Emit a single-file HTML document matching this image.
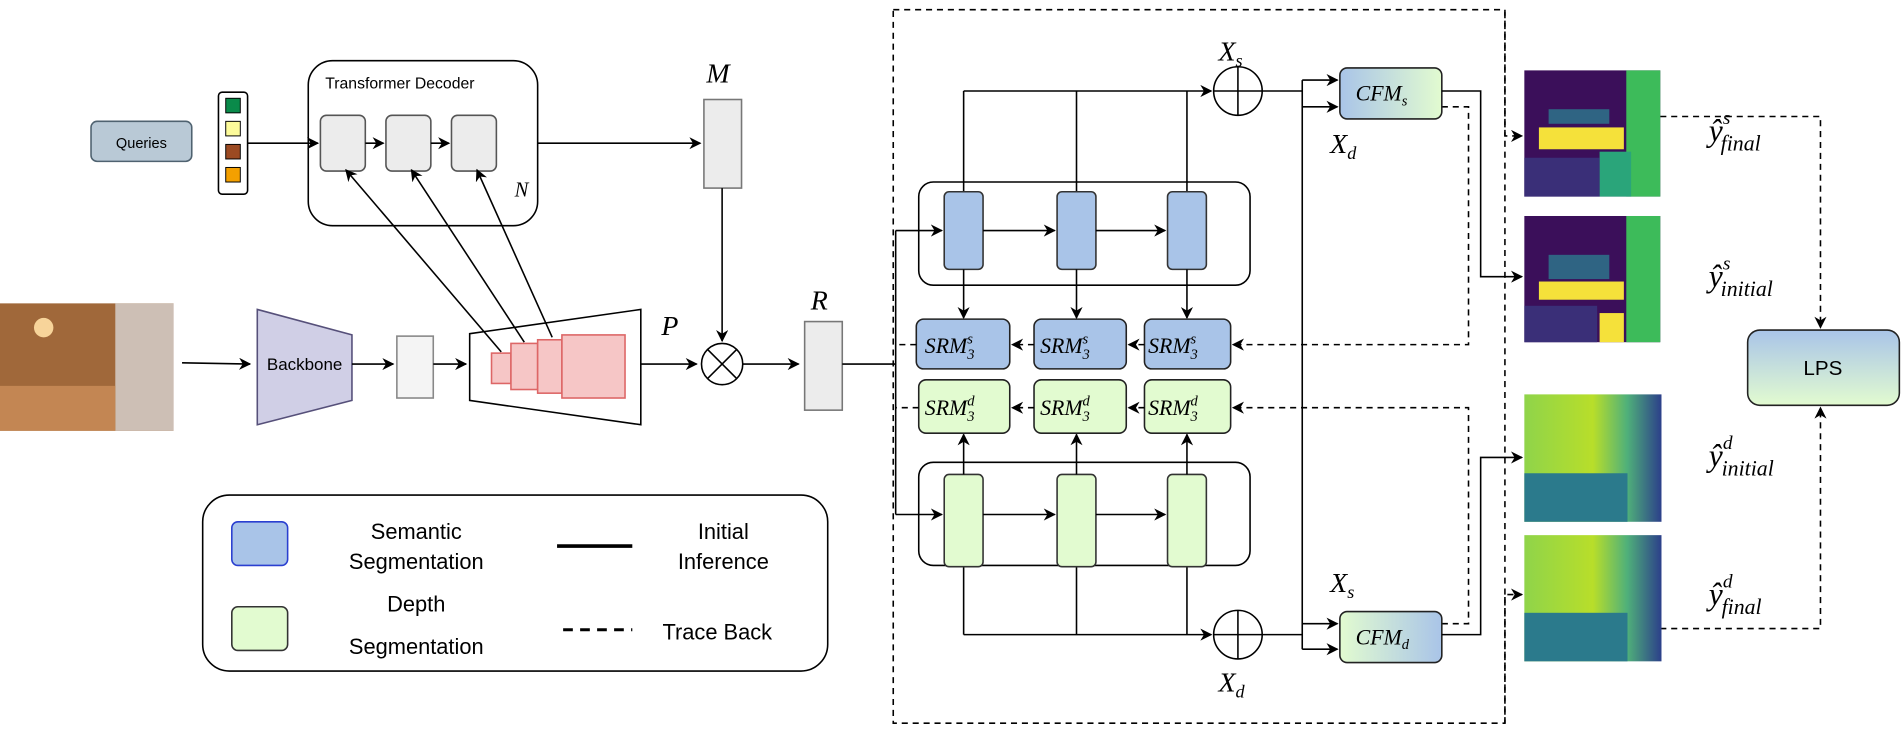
<!DOCTYPE html>
<html><head><meta charset="utf-8"><style>
html,body{margin:0;padding:0;background:#fff;}
svg{display:block;}
text{font-family:"Liberation Sans",sans-serif;}
.m text,.m tspan,text.m{font-family:"Liberation Serif",serif;font-style:italic;}
</style></head><body>
<svg width="1903" height="739" viewBox="0 0 1568 609" preserveAspectRatio="none" xmlns="http://www.w3.org/2000/svg">
<defs>
<marker id="a" markerWidth="10" markerHeight="10" refX="9" refY="5" orient="auto" markerUnits="userSpaceOnUse"><path d="M0,0 L10,5 L0,10 L3,5 z" fill="#000"/></marker>
<linearGradient id="gb" x1="0" y1="0" x2="1" y2="0"><stop offset="0" stop-color="#a9c4e8"/><stop offset="1" stop-color="#e2fbd0"/></linearGradient>
<linearGradient id="gd" x1="0" y1="0" x2="1" y2="0"><stop offset="0" stop-color="#e2fbd0"/><stop offset="1" stop-color="#a9c4e8"/></linearGradient>
<linearGradient id="gl" x1="0" y1="0" x2="0" y2="1"><stop offset="0" stop-color="#a9c4e8"/><stop offset="1" stop-color="#e2fbd0"/></linearGradient>
<linearGradient id="dp" x1="0" y1="0" x2="1" y2="0"><stop offset="0" stop-color="#8fd44a"/><stop offset="0.5" stop-color="#b8de2a"/><stop offset="0.75" stop-color="#4fb07a"/><stop offset="1" stop-color="#2c3f8a"/></linearGradient>
</defs>
<g stroke="#000" fill="none" stroke-width="1.3">
<rect x="0" y="250" width="143" height="105" fill="#a0683a" stroke="none"/>
<rect x="95" y="250" width="48" height="105" fill="#cdbfb5" stroke="none"/>
<rect x="0" y="318" width="95" height="37" fill="#c38653" stroke="none"/>
<circle cx="36" cy="270" r="8" fill="#f7d49a" stroke="none"/>
<line x1="150" y1="299" x2="206" y2="300" marker-end="url(#a)"/>
<polygon points="212,255 290,276 290,330 212,350" fill="#d0cfe6" stroke="#56507a"/>
<line x1="290" y1="300" x2="324" y2="300" marker-end="url(#a)"/>
<rect x="327" y="277" width="30" height="51" fill="#f4f4f4" stroke="#888"/>
<line x1="357" y1="300" x2="384" y2="300" marker-end="url(#a)"/>
<polygon points="387,275 528,255 528,350 387,330" fill="#fff"/>
<g fill="#f6c6c6" stroke="#d66">
<rect x="405" y="291" width="16" height="25"/><rect x="421" y="283" width="22" height="38"/><rect x="443" y="280" width="20" height="44"/><rect x="463" y="276" width="52" height="52"/>
</g>
<line x1="528" y1="300" x2="574" y2="300" marker-end="url(#a)"/>
<circle cx="595" cy="300" r="17" fill="#fff"/>
<line x1="583" y1="288" x2="607" y2="312"/><line x1="607" y1="288" x2="583" y2="312"/>
<line x1="612" y1="300" x2="658" y2="300" marker-end="url(#a)"/>
<rect x="580" y="82" width="31" height="73" fill="#ececec" stroke="#777"/>
<line x1="595" y1="155" x2="595" y2="281" marker-end="url(#a)"/>
<rect x="663" y="265" width="31" height="73" fill="#ececec" stroke="#777"/>
<line x1="694" y1="300" x2="738" y2="300"/>
<rect x="75" y="100" width="83" height="33" rx="5" fill="#b9c9d6" stroke="#4f6270"/>
<rect x="180" y="76" width="24" height="84" rx="3" fill="#fff"/>
<rect x="186" y="81" width="12" height="12" fill="#0a8a4a" stroke-width="0.8"/>
<rect x="186" y="100" width="12" height="12" fill="#fdfb9a" stroke-width="0.8"/>
<rect x="186" y="119" width="12" height="12" fill="#9c4a22" stroke-width="0.8"/>
<rect x="186" y="138" width="12" height="12" fill="#f4a000" stroke-width="0.8"/>
<rect x="254" y="50" width="189" height="136" rx="20" fill="#fff"/>
<line x1="204" y1="118" x2="262" y2="118" marker-end="url(#a)"/>
<rect x="264" y="95" width="37" height="46" rx="5" fill="#ececec" stroke="#555"/>
<rect x="318" y="95" width="37" height="46" rx="5" fill="#ececec" stroke="#555"/>
<rect x="372" y="95" width="37" height="46" rx="5" fill="#ececec" stroke="#555"/>
<line x1="301" y1="118" x2="316" y2="118" marker-end="url(#a)"/>
<line x1="355" y1="118" x2="370" y2="118" marker-end="url(#a)"/>
<line x1="443" y1="118" x2="577" y2="118" marker-end="url(#a)"/>
<line x1="413" y1="290" x2="285" y2="140" marker-end="url(#a)"/>
<line x1="432" y1="282" x2="339" y2="140" marker-end="url(#a)"/>
<line x1="455" y1="278" x2="393" y2="140" marker-end="url(#a)"/>
<rect x="167" y="408" width="515" height="145" rx="22" fill="#fff"/>
<rect x="191" y="430" width="46" height="36" rx="5" fill="#a9c4e8" stroke="#2a3fd0"/>
<rect x="191" y="500" width="46" height="36" rx="5" fill="#e2fbd0" stroke="#333"/>
<line x1="459" y1="450" x2="521" y2="450" stroke-width="3"/>
<line x1="464" y1="519" x2="521" y2="519" stroke-width="2.5" stroke-dasharray="8,6"/>
<rect x="736" y="8" width="504" height="588" stroke-dasharray="5,4"/>
<rect x="757" y="150" width="273" height="85" rx="12" fill="#fff"/>
<rect x="757" y="381" width="273" height="85" rx="12" fill="#fff"/>
<line x1="738" y1="190" x2="738" y2="424"/>
<line x1="738" y1="190" x2="776" y2="190" marker-end="url(#a)"/>
<line x1="738" y1="424" x2="776" y2="424" marker-end="url(#a)"/>
<line x1="794" y1="158" x2="794" y2="75"/><line x1="887" y1="158" x2="887" y2="75"/><line x1="978" y1="158" x2="978" y2="75"/>
<line x1="794" y1="75" x2="998" y2="75" marker-end="url(#a)"/>
<line x1="794" y1="467" x2="794" y2="523"/><line x1="887" y1="467" x2="887" y2="523"/><line x1="978" y1="467" x2="978" y2="523"/>
<line x1="794" y1="523" x2="998" y2="523" marker-end="url(#a)"/>
<g fill="#a9c4e8" stroke="#333"><rect x="778" y="158" width="32" height="64" rx="4"/><rect x="871" y="158" width="32" height="64" rx="4"/><rect x="962" y="158" width="32" height="64" rx="4"/></g>
<g fill="#e2fbd0" stroke="#333"><rect x="778" y="391" width="32" height="76" rx="4"/><rect x="871" y="391" width="32" height="76" rx="4"/><rect x="962" y="391" width="32" height="76" rx="4"/></g>
<line x1="810" y1="190" x2="869" y2="190" marker-end="url(#a)"/><line x1="903" y1="190" x2="960" y2="190" marker-end="url(#a)"/>
<line x1="810" y1="424" x2="869" y2="424" marker-end="url(#a)"/><line x1="903" y1="424" x2="960" y2="424" marker-end="url(#a)"/>
<line x1="794" y1="222" x2="794" y2="262" marker-end="url(#a)"/><line x1="887" y1="222" x2="887" y2="262" marker-end="url(#a)"/><line x1="978" y1="222" x2="978" y2="262" marker-end="url(#a)"/>
<line x1="794" y1="391" x2="794" y2="358" marker-end="url(#a)"/><line x1="887" y1="391" x2="887" y2="358" marker-end="url(#a)"/><line x1="978" y1="391" x2="978" y2="358" marker-end="url(#a)"/>
<g fill="#a9c4e8" stroke="#222"><rect x="755" y="263" width="77" height="41" rx="6"/><rect x="852" y="263" width="76" height="41" rx="6"/><rect x="943" y="263" width="71" height="41" rx="6"/></g>
<g fill="#e2fbd0" stroke="#222"><rect x="757" y="313" width="75" height="44" rx="6"/><rect x="852" y="313" width="76" height="44" rx="6"/><rect x="943" y="313" width="71" height="44" rx="6"/></g>
<g stroke-dasharray="5,4">
<line x1="852" y1="284" x2="834" y2="284" marker-end="url(#a)"/><line x1="943" y1="284" x2="930" y2="284" marker-end="url(#a)"/><line x1="755" y1="284" x2="738" y2="284"/>
<line x1="852" y1="336" x2="834" y2="336" marker-end="url(#a)"/><line x1="943" y1="336" x2="930" y2="336" marker-end="url(#a)"/><line x1="757" y1="336" x2="738" y2="336"/>
<polyline points="1188,88 1210,88 1210,284 1016,284" marker-end="url(#a)"/>
<polyline points="1188,514 1210,514 1210,336 1016,336" marker-end="url(#a)"/>
<polyline points="1240,10 1240,112 1254,112" marker-end="url(#a)"/>
<polyline points="1240,596 1240,490 1254,490" marker-end="url(#a)"/>
<polyline points="1368,96 1500,96 1500,270" marker-end="url(#a)"/>
<polyline points="1368,518 1500,518 1500,336" marker-end="url(#a)"/>
</g>
<circle cx="1020" cy="75" r="20" fill="#fff"/><line x1="1000" y1="75" x2="1040" y2="75"/><line x1="1020" y1="55" x2="1020" y2="95"/>
<circle cx="1020" cy="523" r="20" fill="#fff"/><line x1="1000" y1="523" x2="1040" y2="523"/><line x1="1020" y1="503" x2="1020" y2="543"/>
<line x1="1040" y1="75" x2="1073" y2="75"/><line x1="1040" y1="523" x2="1073" y2="523"/>
<line x1="1073" y1="66" x2="1073" y2="535"/>
<line x1="1073" y1="66" x2="1102" y2="66" marker-end="url(#a)"/><line x1="1073" y1="88" x2="1102" y2="88" marker-end="url(#a)"/>
<line x1="1073" y1="514" x2="1102" y2="514" marker-end="url(#a)"/><line x1="1073" y1="535" x2="1102" y2="535" marker-end="url(#a)"/>
<rect x="1104" y="56" width="84" height="42" rx="6" fill="url(#gb)" stroke="#222"/>
<rect x="1104" y="504" width="84" height="42" rx="6" fill="url(#gd)" stroke="#222"/>
<polyline points="1188,75 1220,75 1220,228 1254,228" marker-end="url(#a)"/>
<polyline points="1188,523 1220,523 1220,377 1254,377" marker-end="url(#a)"/>
<rect x="1440" y="272" width="125" height="62" rx="10" fill="url(#gl)" stroke="#222"/>
</g>
<g>
<rect x="1256" y="58" width="112" height="104" fill="#3b0f5a"/>
<rect x="1340" y="58" width="28" height="104" fill="#3dbb5a"/>
<rect x="1318" y="125" width="26" height="37" fill="#2aa57a"/>
<rect x="1276" y="90" width="50" height="12" fill="#2f6483"/>
<rect x="1268" y="105" width="70" height="18" fill="#f5e13a"/>
<rect x="1256" y="130" width="62" height="32" fill="#3a2f78"/>
<rect x="1256" y="178" width="112" height="104" fill="#3b0f5a"/>
<rect x="1340" y="178" width="28" height="104" fill="#3dbb5a"/>
<rect x="1276" y="210" width="50" height="20" fill="#2f6483"/>
<rect x="1268" y="232" width="70" height="15" fill="#f5e13a"/>
<rect x="1318" y="258" width="20" height="24" fill="#f5e13a"/>
<rect x="1256" y="252" width="60" height="30" fill="#3a2f78"/>
<rect x="1256" y="325" width="113" height="105" fill="url(#dp)"/>
<rect x="1256" y="390" width="85" height="40" fill="#2b7a8c"/>
<rect x="1256" y="441" width="113" height="104" fill="url(#dp)"/>
<rect x="1256" y="505" width="85" height="40" fill="#2b7a8c"/>
</g>
<text x="116.5" y="122" font-size="12" text-anchor="middle">Queries</text>
<text x="268" y="73" font-size="13">Transformer Decoder</text>
<text x="251" y="305" font-size="14" text-anchor="middle">Backbone</text>
<text x="1502" y="309" font-size="17" text-anchor="middle">LPS</text>
<g font-size="18" text-anchor="middle">
<text x="343" y="444">Semantic</text><text x="343" y="469">Segmentation</text>
<text x="343" y="504">Depth</text><text x="343" y="539">Segmentation</text>
<text x="596" y="444">Initial</text><text x="596" y="469">Inference</text>
<text x="591" y="527">Trace Back</text>
</g>
<g class="m" font-size="23">
<text x="582" y="68">M</text><text x="668" y="255">R</text><text x="545" y="276">P</text>
<text x="424" y="162" font-size="17">N</text>
<text x="1004" y="50">X<tspan font-size="15" dy="5">s</tspan></text>
<text x="1096" y="126">X<tspan font-size="15" dy="5">d</tspan></text>
<text x="1096" y="488">X<tspan font-size="15" dy="5">s</tspan></text>
<text x="1004" y="570">X<tspan font-size="15" dy="5">d</tspan></text>
</g>
<g class="m" font-size="18">
<text x="1117" y="83">CFM<tspan font-size="12" dy="4">s</tspan></text>
<text x="1117" y="531">CFM<tspan font-size="12" dy="4">d</tspan></text>
<text x="762" y="291">SRM<tspan font-size="12" dy="5">3</tspan><tspan font-size="12" dx="-6" dy="-13">s</tspan></text>
<text x="857" y="291">SRM<tspan font-size="12" dy="5">3</tspan><tspan font-size="12" dx="-6" dy="-13">s</tspan></text>
<text x="946" y="291">SRM<tspan font-size="12" dy="5">3</tspan><tspan font-size="12" dx="-6" dy="-13">s</tspan></text>
<text x="762" y="342">SRM<tspan font-size="12" dy="5">3</tspan><tspan font-size="12" dx="-6" dy="-13">d</tspan></text>
<text x="857" y="342">SRM<tspan font-size="12" dy="5">3</tspan><tspan font-size="12" dx="-6" dy="-13">d</tspan></text>
<text x="946" y="342">SRM<tspan font-size="12" dy="5">3</tspan><tspan font-size="12" dx="-6" dy="-13">d</tspan></text>
</g>
<g class="m" font-size="26">
<text x="1408" y="116">ŷ<tspan font-size="16" dy="-14">s</tspan><tspan font-size="18" dx="-8" dy="22">final</tspan></text>
<text x="1408" y="236">ŷ<tspan font-size="16" dy="-14">s</tspan><tspan font-size="18" dx="-8" dy="22">initial</tspan></text>
<text x="1408" y="384">ŷ<tspan font-size="16" dy="-14">d</tspan><tspan font-size="18" dx="-9" dy="22">initial</tspan></text>
<text x="1408" y="498">ŷ<tspan font-size="16" dy="-14">d</tspan><tspan font-size="18" dx="-9" dy="22">final</tspan></text>
</g>
</svg>
</body></html>
